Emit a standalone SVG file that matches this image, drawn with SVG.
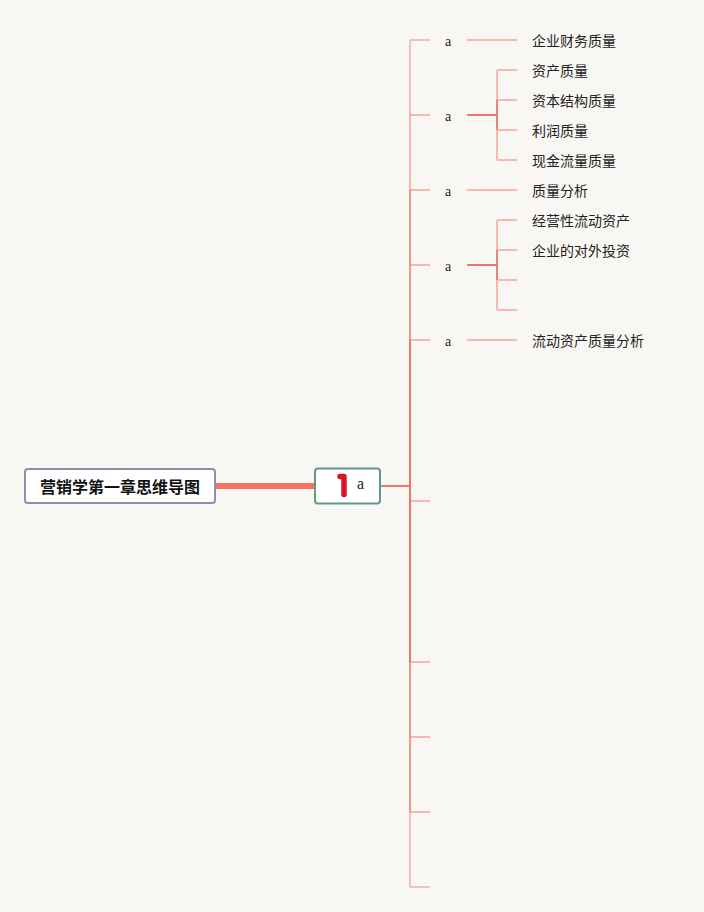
<svg xmlns="http://www.w3.org/2000/svg" width="704" height="912" viewBox="0 0 704 912">
<style>
.bg{fill:#f9f7f4}
.c{fill:none;stroke:#ec6a58;stroke-width:2;stroke-linejoin:round}
.o3{stroke-opacity:.38}.o5{stroke-opacity:.44}.o7{stroke-opacity:.68}.o9{stroke-opacity:.9}
.cj{font-family:"Noto Sans CJK SC","Liberation Sans",sans-serif;font-size:14px;fill:#222}
.a{font-family:"Liberation Serif",serif;font-size:14px;fill:#222}
.root{font-family:"Noto Sans CJK SC","Liberation Sans",sans-serif;font-size:16px;font-weight:700;fill:#111}
</style>
<rect class="bg" width="704" height="912"/>
<g id="connectors">
<path class="c" d="M216 486H315" style="stroke-width:6;stroke:#f4735f"/>
<path class="c o9" d="M381 486H410" style="stroke:#e0705f"/>
<path class="c o3" d="M430 40H411.500Q410 40 410 41.500V115"/>
<path class="c o5" d="M410 115V190"/>
<path class="c o7" d="M410 190V340"/>
<path class="c o9" d="M410 340V662"/>
<path class="c o7" d="M410 662V812"/>
<path class="c o3" d="M410 812V885.500Q410 887 411.500 887H430"/>
<path class="c o5" d="M410 115H430M410 190H430M410 265H430M410 340H430M410 501H430M410 662H430M410 737H430M410 812H430"/>
<path class="c o5" d="M467 40H517M467 190H517M467 340H517"/>
<path class="c o9" d="M467 115H497M467 265H497"/>
<path class="c o5" d="M517 70H498.500Q497 70 497 71.500V158.500Q497 160 498.500 160H517M497 100H517M497 130H517"/>
<path class="c o7" d="M497 100V130"/>
<path class="c o5" d="M517 220H498.500Q497 220 497 221.500V308.500Q497 310 498.500 310H517M497 250H517M497 280H517"/>
<path class="c o7" d="M497 250V280"/>
</g>
<g id="root"><rect x="25" y="469" width="190" height="34" rx="3" fill="#fff" stroke="#8790ab" stroke-width="2"/><text class="root" x="120" y="492.500" text-anchor="middle">营销学第一章思维导图</text></g>
<g id="main"><rect x="315" y="468.500" width="65" height="35" rx="3" fill="#fff" stroke="#5d9a8b" stroke-width="2"/><path d="M340 476.500H344V494.500" fill="none" stroke="#d9132c" stroke-width="5.500" stroke-linecap="round" stroke-linejoin="round"/><text class="a" style="font-size:16px" x="357" y="488.500">a</text></g>
<g id="n1"><text class="a" x="445" y="46">a</text></g>
<g id="n2"><text class="a" x="445" y="121">a</text></g>
<g id="n3"><text class="a" x="445" y="196">a</text></g>
<g id="n4"><text class="a" x="445" y="271">a</text></g>
<g id="n5"><text class="a" x="445" y="346">a</text></g>
<g id="t1"><text class="cj" x="532" y="46">企业财务质量</text></g>
<g id="t2"><text class="cj" x="532" y="76">资产质量</text></g>
<g id="t3"><text class="cj" x="532" y="106">资本结构质量</text></g>
<g id="t4"><text class="cj" x="532" y="136">利润质量</text></g>
<g id="t5"><text class="cj" x="532" y="166">现金流量质量</text></g>
<g id="t6"><text class="cj" x="532" y="196">质量分析</text></g>
<g id="t7"><text class="cj" x="532" y="226">经营性流动资产</text></g>
<g id="t8"><text class="cj" x="532" y="256">企业的对外投资</text></g>
<g id="t9"><text class="cj" x="532" y="346">流动资产质量分析</text></g>
</svg>
